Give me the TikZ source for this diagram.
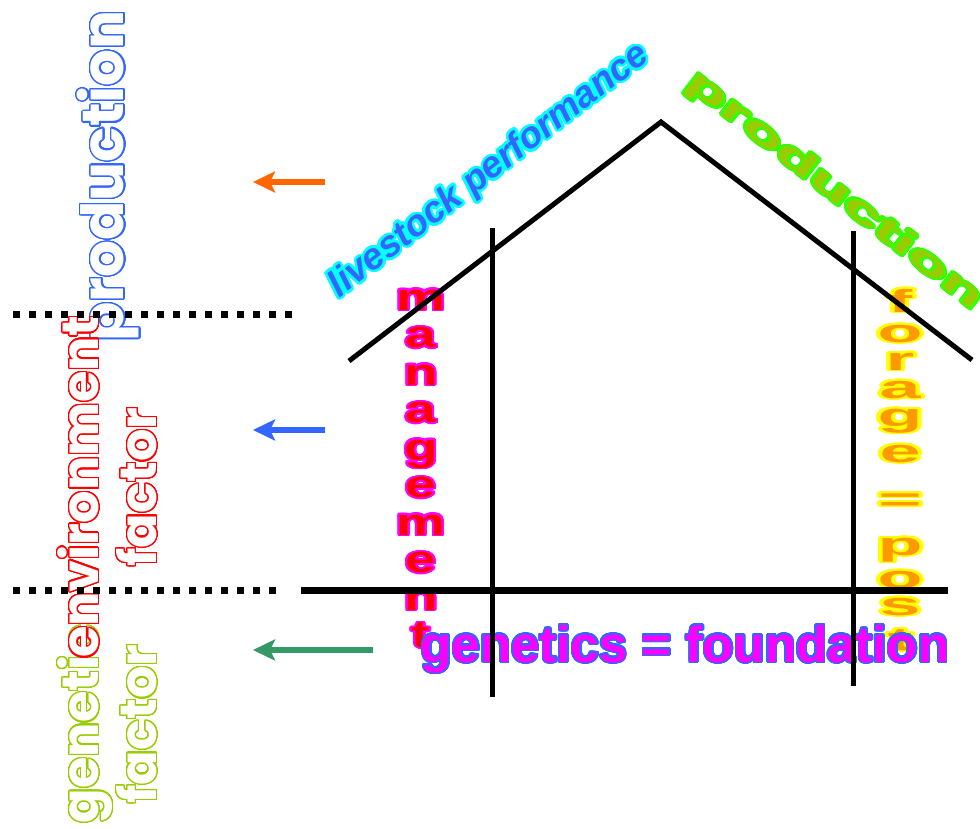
\documentclass[tikz,border=0pt]{standalone}
\usepackage{fontspec}
\usepackage{contour}
\usetikzlibrary{arrows.meta,positioning}
\newfontfamily\popfont{Poppins}
\newfontfamily\arifont{Liberation Sans}
\definecolor{prodblue}{HTML}{3366FF}
\definecolor{envred}{HTML}{FF0000}
\definecolor{genlime}{HTML}{99CC00}
\definecolor{arrorange}{HTML}{FF6600}
\definecolor{arrblue}{HTML}{3366FF}
\definecolor{arrgreen}{HTML}{339966}
\definecolor{livefill}{HTML}{3366FF}
\definecolor{liveline}{HTML}{00FFFF}
\definecolor{roofprodfill}{HTML}{99CC00}
\definecolor{roofprodline}{HTML}{33FF00}
\definecolor{mgmtfill}{HTML}{FF0000}
\definecolor{mgmtline}{HTML}{FF00FF}
\definecolor{foragefill}{HTML}{FF9900}
\definecolor{forageline}{HTML}{FFFF00}
\definecolor{basefill}{HTML}{FF00FF}
\definecolor{baseline}{HTML}{3366FF}
\contournumber{32}
\tikzset{
  >=Stealth,
  house/.style={line width=5pt,draw=black},
  floorline/.style={line width=7pt,draw=black},
  divider/.style={line width=7pt,draw=black,dash pattern=on 7pt off 9pt},
  factorarrow/.style={-{Stealth[length=22pt,width=21pt,inset=5pt]},line width=6pt},
  sidelabel/.style={rotate=90,align=center,inner sep=0pt,text=white,
                    font=\popfont\bfseries\fontsize{51}{58}\selectfont\contourlength{1.3pt}},
  mgmtletter/.style={anchor=base,inner sep=0pt,text=mgmtfill,
                     font=\arifont\bfseries\fontsize{38}{38}\selectfont\contourlength{1.5pt}},
  forageletter/.style={anchor=base,inner sep=0pt,text=foragefill,
                       font=\arifont\bfseries\fontsize{32}{32}\selectfont\contourlength{1.8pt}}
}
\begin{document}
\begin{tikzpicture}[x=1pt,y=-1pt,line cap=butt]
  \fill[white] (0,0) rectangle (980,829);
  \useasboundingbox (0,0) rectangle (980,829);

  % Side labels
  \node[sidelabel,font=\popfont\bfseries\fontsize{58}{58}\selectfont\contourlength{1.3pt}]
    (prodlabel) at (109,176) {\contour{prodblue}{production}};
  \node[sidelabel] (genlabel) at (108,724)
    {\contour{genlime}{genetic}\\\contour{genlime}{factor}};
  \node[sidelabel] (envlabel) at (108,487)
    {\contour{envred}{environment}\\\contour{envred}{factor}};

  % Roof labels
  \node[rotate=37.5,inner sep=0pt,text=livefill,
        font=\arifont\bfseries\itshape\fontsize{37}{37}\selectfont\contourlength{2.5pt}]
    (perf) at (490,172) {\contour{liveline}{livestock performance}};
  \node[rotate=-38,inner sep=0pt,text=roofprodfill,
        font=\arifont\bfseries\fontsize{35}{35}\selectfont\contourlength{1.6pt}]
    (roofprod) at (834,192) {\scalebox{2}[1]{\contour{roofprodline}{production}}};

  % Wall letters
  \foreach \ch [count=\i from 0] in {m,a,n,a,g,e,m,e,n,t}
    \node[mgmtletter] (mgmt\i) at (421,{310+37.5*\i})
      {\scalebox{1.45}[1]{\contour{mgmtline}{\ch}}};
  \foreach \ch/\yb [count=\i] in {f/312,o/342,r/370,a/398,g/426,e/462,{=}/510,p/555,o/588,s/615,t/650}
    \node[forageletter] (forage\i) at (900,\yb)
      {\scalebox{2.3}[1]{\contour{forageline}{\ch}}};

  % Foundation
  \node[anchor=base,inner sep=0pt,text=basefill,
        font=\arifont\bfseries\fontsize{51}{51}\selectfont\contourlength{1.5pt}]
    (base) at (685,662) {\contour{baseline}{genetics = foundation}};

  % House
  \coordinate (eaveL) at (349,361);
  \coordinate (apex) at (661,122);
  \coordinate (eaveR) at (972,360);
  \draw[house] (eaveL) -- (apex) -- (eaveR);
  \draw[house] (492,228) -- (492,697);
  \draw[house] (853,231) -- (853,686);
  \draw[floorline] (301,590) -- (948,590);

  % Dividers
  \draw[divider] (13,314) -- (293,314);
  \draw[divider] (13,590) -- (278,590);

  % Arrows
  \coordinate (topstart) at (325,182);
  \coordinate (topend) at (253,182);
  \coordinate (midstart) at (325,430);
  \coordinate (midend) at (253,430);
  \coordinate (lowstart) at (373,650);
  \coordinate (lowend) at (253,650);
  \draw[factorarrow,draw=arrorange,fill=arrorange] (topstart) -- (topend);
  \draw[factorarrow,draw=arrblue,fill=arrblue] (midstart) -- (midend);
  \draw[factorarrow,draw=arrgreen,fill=arrgreen] (lowstart) -- (lowend);
\end{tikzpicture}
\end{document}
